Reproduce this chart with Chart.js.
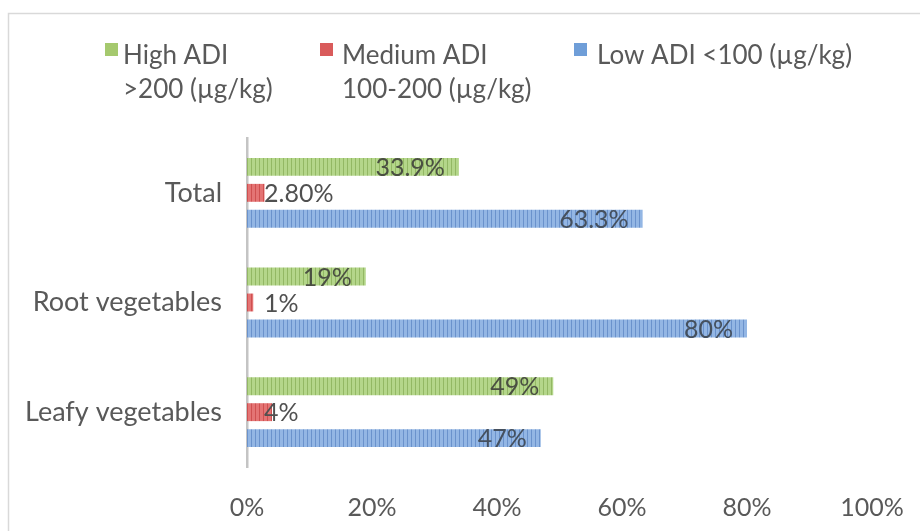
<!DOCTYPE html>
<html>
<head>
<meta charset="utf-8">
<script src="https://cdn.jsdelivr.net/npm/chart.js@4/dist/chart.umd.min.js"></script>
<style>
  html, body { margin: 0; padding: 0; background: #ffffff; }
  #wrap { width: 920px; height: 531px; position: relative; }
</style>
</head>
<body>
<div id="wrap"><canvas id="c" width="920" height="531"></canvas></div>
<script>
// Share of samples per ADI band, by vegetable group
const categories = ['Total', 'Root vegetables', 'Leafy vegetables'];
const highADI = [33.9, 19, 49];
const mediumADI = [2.8, 1, 4];
const lowADI = [63.3, 80, 47];

// Printed value labels
const highLabels = ['33.9%', '19%', '49%'];
const mediumLabels = ['2.80%', '1%', '4%'];
const lowLabels = ['63.3%', '80%', '47%'];

// Legend text (two lines where wrapped)
const legendHigh = ['High ADI', '>200 (µg/kg)'];
const legendMedium = ['Medium ADI', '100-200 (µg/kg)'];
const legendLow = ['Low ADI <100 (µg/kg)'];

const xTicks = [0, 20, 40, 60, 80, 100];

const FONT = 'Lato, "Open Sans", sans-serif';
const canvas = document.getElementById('c');
const ctx = canvas.getContext('2d');

// Fill with thin vertical stripes
function stripes(base, line, period) {
  const t = document.createElement('canvas');
  t.width = period; t.height = 4;
  const g = t.getContext('2d');
  g.fillStyle = base; g.fillRect(0, 0, period, 4);
  g.fillStyle = line; g.fillRect(period - 1, 0, 1, 4);
  return ctx.createPattern(t, 'repeat');
}

const greenFill = stripes('#b4d68a', '#93b864', 4);
const redFill = stripes('#e47474', '#cf5050', 4);
const blueFill = stripes('#93b6e4', '#6a92cc', 4);

const frame = {
  id: 'frame',
  beforeDraw(chart) {
    const c = chart.ctx;
    c.save();
    c.fillStyle = '#ffffff';
    c.fillRect(0, 0, chart.width, chart.height);
    c.strokeStyle = '#d9d9d9';
    c.lineWidth = 1.5;
    c.strokeRect(8.5, 13.5, chart.width + 20, chart.height + 20);
    c.restore();
  }
};

const legendBox = {
  id: 'legendBox',
  afterDraw(chart) {
    const c = chart.ctx;
    const items = [
      { fill: '#a5c96e', text: legendHigh, x: 105, tx: 123 },
      { fill: '#d95b5b', text: legendMedium, x: 320, tx: 342 },
      { fill: '#6f9ed8', text: legendLow, x: 574, tx: 597 }
    ];
    c.save();
    c.font = '26px ' + FONT;
    c.textBaseline = 'middle';
    items.forEach(it => {
      c.fillStyle = it.fill;
      c.fillRect(it.x, 43, 13, 13);
      c.fillStyle = '#595959';
      it.text.forEach((line, i) => c.fillText(line, it.tx, 56 + i * 34));
    });
    c.restore();
  }
};

const valueLabels = {
  id: 'valueLabels',
  afterDatasetsDraw(chart) {
    const c = chart.ctx;
    const x0 = chart.scales.x.getPixelForValue(0);
    c.save();
    c.font = '25px ' + FONT;
    c.textBaseline = 'middle';
    chart.data.datasets.forEach((ds, di) => {
      const meta = chart.getDatasetMeta(di);
      meta.data.forEach((bar, i) => {
        const txt = ds.valueText[i];
        c.fillStyle = ds.labelColor;
        if (ds.labelPos === 'inside') {
          c.textAlign = 'right';
          c.fillText(txt, bar.x - 14, bar.y + 1);
        } else {
          c.textAlign = 'left';
          c.fillText(txt, x0 + 17, bar.y + 1);
        }
      });
    });
    c.restore();
  }
};

new Chart(canvas, {
  type: 'bar',
  data: {
    labels: categories,
    datasets: [
      { label: legendHigh.join(' '), data: highADI, backgroundColor: greenFill, valueText: highLabels, labelPos: 'inside', labelColor: '#4a4f42' },
      { label: legendMedium.join(' '), data: mediumADI, backgroundColor: redFill, valueText: mediumLabels, labelPos: 'outside', labelColor: '#505050' },
      { label: legendLow.join(' '), data: lowADI, backgroundColor: blueFill, valueText: lowLabels, labelPos: 'inside', labelColor: '#45505e' }
    ]
  },
  options: {
    indexAxis: 'y',
    responsive: false,
    animation: false,
    devicePixelRatio: 1,
    categoryPercentage: 0.71,
    barPercentage: 0.69,
    layout: { padding: { top: 138, right: 48, left: 0, bottom: 0 } },
    plugins: {
      legend: { display: false },
      tooltip: { enabled: false }
    },
    scales: {
      x: {
        min: 0, max: 100,
        afterBuildTicks(scale) { scale.ticks = xTicks.map(v => ({ value: v })); },
        afterFit(scale) {
          scale.height = 531 - 467;
          scale.paddingLeft = 0;
          scale.paddingRight = 0;
        },
        grid: { display: false, drawTicks: false },
        border: { display: false },
        ticks: {
          padding: 26,
          color: '#595959',
          font: { family: FONT, size: 25 },
          callback: v => v + '%'
        }
      },
      y: {
        afterFit(scale) { scale.width = 247; },
        grid: { display: false, drawTicks: false },
        border: { display: true, color: '#c4c4c4', width: 2.5 },
        ticks: {
          padding: 25,
          color: '#595959',
          font: { family: FONT, size: 27 }
        }
      }
    }
  },
  plugins: [frame, legendBox, valueLabels]
});
</script>
</body>
</html>
